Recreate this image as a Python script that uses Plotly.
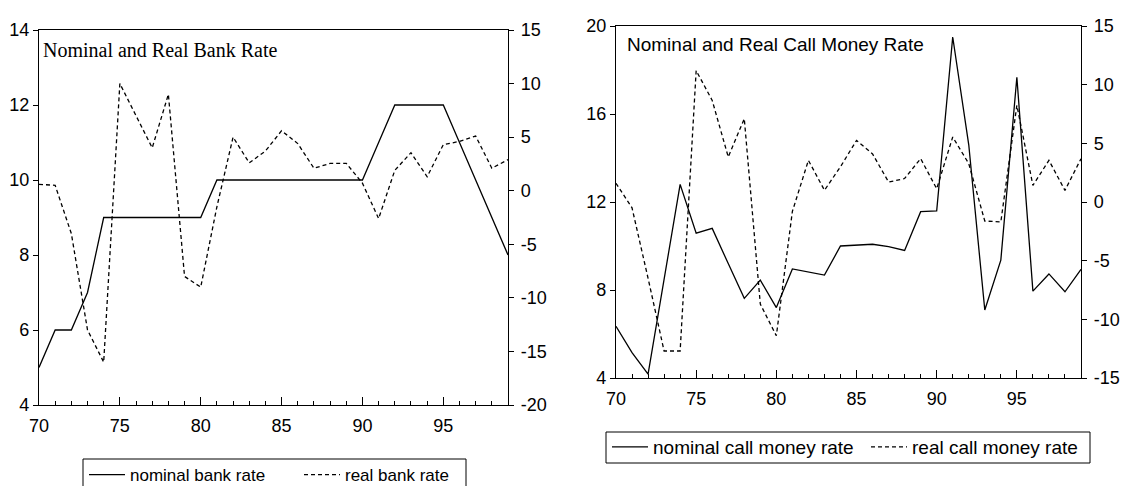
import plotly.graph_objects as go

years = list(range(70, 100))
nominal_bank = [5, 6, 6, 7, 9, 9, 9, 9, 9, 9, 9, 10, 10, 10, 10, 10, 10, 10, 10, 10,
                10, 11, 12, 12, 12, 12, 11, 10, 9, 8]
real_bank = [0.6, 0.5, -4, -13, -16, 10, 7, 4, 9, -8, -9, -1.5, 5, 2.6, 3.7, 5.6, 4.4,
             2.1, 2.55, 2.55, 0.7, -2.6, 1.9, 3.55, 1.3, 4.3, 4.6, 5.1, 2.1, 2.9]
nominal_call = [6.35, 5.15, 4.18, 8.4, 12.8, 10.58, 10.8, 9.2, 7.62, 8.45, 7.2, 8.96,
                8.83, 8.68, 10.0, 10.05, 10.08, 9.97, 9.8, 11.56, 11.6, 19.5, 14.6, 7.09,
                9.36, 17.67, 7.95, 8.73, 7.92, 8.94]
real_call = [1.6, -0.5, -6.5, -12.7, -12.7, 11.2, 8.66, 3.84, 7.1, -8.7, -11.4, -0.8,
             3.55, 1.0, 3.0, 5.25, 4.1, 1.7, 2.0, 3.7, 1.13, 5.54, 3.27, -1.62, -1.7,
             8.24, 1.42, 3.55, 0.99, 3.69]

x_ticks = [70, 75, 80, 85, 90, 95]
x_ticklabels = ["70", "75", "80", "85", "90", "95"]
bank_left_ticks = [4, 6, 8, 10, 12, 14]
bank_right_ticks = [-20, -15, -10, -5, 0, 5, 10, 15]
call_left_ticks = [4, 8, 12, 16, 20]
call_right_ticks = [-15, -10, -5, 0, 5, 10, 15]


def labels(vals):
    return [str(v) for v in vals]


W, H = 1122, 486
SANS = "Liberation Sans, Arial, sans-serif"
tickfont = dict(family=SANS, size=18, color="black")

fig = go.Figure()
solid = dict(color="black", width=1.3)
dashed = dict(color="black", width=1.3, dash="4px,3px")

fig.add_trace(go.Scatter(x=years, y=nominal_bank, mode="lines", line=solid,
                         name="nominal bank rate", xaxis="x", yaxis="y", legend="legend"))
fig.add_trace(go.Scatter(x=years, y=real_bank, mode="lines", line=dashed,
                         name="real bank rate", xaxis="x", yaxis="y2", legend="legend"))
fig.add_trace(go.Scatter(x=years, y=nominal_call, mode="lines", line=solid,
                         name="nominal call money rate", xaxis="x2", yaxis="y3", legend="legend2"))
fig.add_trace(go.Scatter(x=years, y=real_call, mode="lines", line=dashed,
                         name="real call money rate", xaxis="x2", yaxis="y4", legend="legend2"))


def px_x(p):
    return p / W


def px_y(p):
    return 1 - p / H


xcommon = dict(range=[70, 99], tickmode="array", tickvals=x_ticks, ticktext=x_ticklabels,
               ticks="inside", ticklen=8, tickcolor="black", tickwidth=1,
               minor=dict(dtick=1, ticks="inside", ticklen=4, tickcolor="black", tickwidth=1),
               showline=True, linecolor="black", linewidth=1.3, mirror=True,
               showgrid=False, zeroline=False, tickfont=tickfont, automargin=False,
               ticklabelstandoff=4)
ycommon = dict(ticks="outside", ticklen=5, tickcolor="black", tickwidth=1,
               showline=True, linecolor="black", linewidth=1.3,
               showgrid=False, zeroline=False, tickfont=tickfont, tickmode="array",
               automargin=False)

left_dom_x = [px_x(39), px_x(508)]
left_dom_y = [px_y(405), px_y(30)]
right_dom_x = [px_x(616), px_x(1081)]
right_dom_y = [px_y(378), px_y(26)]

legend_frames = [
    dict(type="rect", xref="paper", yref="paper", x0=px_x(83), x1=px_x(466),
         y0=px_y(495), y1=px_y(459), line=dict(color="black", width=1), layer="above"),
    dict(type="rect", xref="paper", yref="paper", x0=px_x(606), x1=px_x(1090),
         y0=px_y(463), y1=px_y(432), line=dict(color="black", width=1), layer="above"),
]

fig.update_layout(
    width=W, height=H,
    margin=dict(l=0, r=0, t=0, b=0, autoexpand=False),
    paper_bgcolor="white", plot_bgcolor="white",
    xaxis=dict(domain=left_dom_x, anchor="y", **xcommon),
    yaxis=dict(domain=left_dom_y, anchor="x", range=[4, 14], side="left",
               tickvals=bank_left_ticks, ticktext=labels(bank_left_ticks), **ycommon),
    yaxis2=dict(overlaying="y", anchor="x", side="right", range=[-20, 15],
                tickvals=bank_right_ticks, ticktext=labels(bank_right_ticks),
                ticklabelstandoff=3, **ycommon),
    xaxis2=dict(domain=right_dom_x, anchor="y3", **xcommon),
    yaxis3=dict(domain=right_dom_y, anchor="x2", range=[4, 20], side="left",
                tickvals=call_left_ticks, ticktext=labels(call_left_ticks), **ycommon),
    yaxis4=dict(overlaying="y3", anchor="x2", side="right", range=[-15, 15],
                tickvals=call_right_ticks, ticktext=labels(call_right_ticks),
                ticklabelstandoff=3, **ycommon),
    legend=dict(orientation="h", x=px_x(84), y=px_y(457), xanchor="left", yanchor="top",
                borderwidth=0, bgcolor="rgba(0,0,0,0)",
                font=dict(family=SANS, size=17, color="black"),
                itemwidth=36, entrywidth=164, tracegroupgap=0),
    legend2=dict(orientation="h", x=px_x(607), y=px_y(428), xanchor="left", yanchor="top",
                 borderwidth=0, bgcolor="rgba(0,0,0,0)",
                 font=dict(family=SANS, size=19, color="black"),
                 itemwidth=36, entrywidth=208, tracegroupgap=0),
    shapes=legend_frames,
    annotations=[
        dict(text="Nominal and Real Bank Rate", x=px_x(41), y=px_y(50), xref="paper",
             yref="paper", xanchor="left", yanchor="middle", showarrow=False,
             font=dict(family="Liberation Serif, Times New Roman, serif", size=20,
                       color="black")),
        dict(text="Nominal and Real Call Money Rate", x=px_x(625), y=px_y(44),
             xref="paper", yref="paper", xanchor="left", yanchor="middle",
             showarrow=False,
             font=dict(family="Liberation Sans, Arial, sans-serif", size=19,
                       color="black")),
    ],
    showlegend=True,
)

fig.write_html("out.html")
